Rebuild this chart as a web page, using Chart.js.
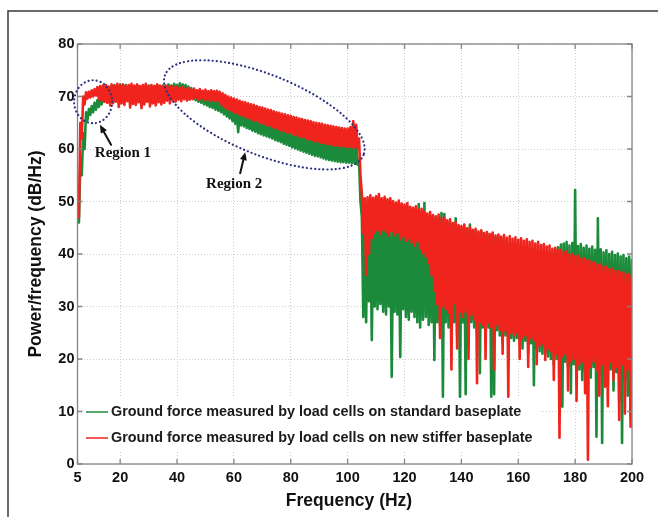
<!DOCTYPE html>
<html>
<head>
<meta charset="utf-8">
<script src="https://cdn.jsdelivr.net/npm/chart.js@4.4.1/dist/chart.umd.min.js"></script>
<style>
  html, body { margin: 0; padding: 0; background: #fff; }
  #wrap { width: 658px; height: 517px; }
</style>
</head>
<body>
<div id="wrap"><canvas id="psd-chart" width="658" height="517"></canvas></div>
<script>
// PSD of ground force, two baseplates. Values read per 1 Hz bin: peak (hi) and trough (lo).
const FREQ_FIRST = 5
const FREQ_LAST = 200
const X_TICKS = [5, 20, 40, 60, 80, 100, 120, 140, 160, 180, 200]
const Y_TICKS = [0, 10, 20, 30, 40, 50, 60, 70, 80]
const LABELS = [
  'Ground force measured by load cells on standard baseplate',
  'Ground force measured by load cells on new stiffer baseplate',
]
const REGION_LABELS = ['Region 1', 'Region 2']
const X_TITLE = 'Frequency (Hz)'

// standard baseplate (green)
const STD_HI = [
  49, 58, 63, 67, 67.6, 68.2, 68.8, 69.3, 69.8, 70.5,
  71.0, 71.8, 72.0, 72.2, 71.9, 72.3, 72.1, 72.2, 71.8, 72.0,
  71.9, 72.1, 71.7, 72.0, 71.8, 72.1, 71.9, 72.0, 72.2, 71.9,
  72.1, 72.0, 72.3, 72.1, 72.4, 72.2, 72.5, 72.3, 72.2, 71.9,
  71.6, 71.3, 71.0, 70.7, 70.4, 70.1, 69.8, 69.6, 69.4, 69.2,
  68.9, 68.6, 68.3, 68.0, 67.7, 67.4, 67.1, 66.8, 66.5, 66.2,
  65.9, 65.7, 65.4, 65.2, 65.0, 64.8, 64.6, 64.4, 64.2, 64.0,
  63.8, 63.6, 63.4, 63.2, 63.0, 62.8, 62.6, 62.5, 62.3, 62.1,
  62.0, 61.8, 61.7, 61.5, 61.4, 61.3, 61.2, 61.1, 61.0, 60.9,
  60.8, 60.7, 60.6, 60.6, 60.5, 60.5, 60.6, 61.5, 61.0, 58,
  47, 45, 45.5, 45.8, 45.2, 45.6, 46.0, 45.4, 45.8, 45.1,
  45.5, 44.8, 45.2, 44.6, 45.0, 46.5, 45.3, 44.8, 46.0, 47.2,
  49.5, 47.0, 49.7, 47.2, 47.4, 46.8, 46.8, 47.0, 47.8, 47.6,
  46.0, 46.2, 45.6, 46.8, 45.2, 45.0, 45.4, 44.6, 45.6, 44.3,
  44.4, 44.0, 44.2, 43.7, 43.9, 43.5, 43.8, 43.2, 43.4, 43.0,
  42.6, 42.4, 42.2, 42.0, 41.8, 41.6, 41.5, 41.3, 41.2, 41.0,
  40.9, 40.8, 40.6, 40.5, 40.4, 40.3, 40.2, 40.2, 40.8, 41.3,
  41.8, 42.0, 42.3, 41.6, 42.1, 52.2, 41.5, 41.9, 41.2, 41.6,
  41.0, 41.4, 40.8, 46.8, 40.9, 40.3, 40.7, 40.0, 40.4, 39.8,
  40.1, 39.5, 39.8, 39.2, 39.5, 39.0,
]
const STD_LO = [
  46, 55, 60, 65.5, 66.5, 67.0, 67.5, 68.0, 68.5, 69.0,
  69.5, 69.8, 70.2, 69.9, 70.3, 70.0, 70.4, 69.8, 70.2, 70.0,
  70.3, 69.9, 70.2, 70.0, 70.4, 69.9, 70.2, 70.1, 70.3, 70.0,
  70.2, 70.0, 70.3, 70.1, 70.4, 70.2, 70.3, 70.0, 69.8, 69.5,
  69.6, 69.3, 69.0, 68.8, 68.5, 68.3, 68.0, 67.8, 67.5, 67.3,
  67.0, 66.6, 66.2, 65.8, 65.3, 64.8, 63.2, 64.5, 64.3, 64.0,
  63.8, 63.5, 63.3, 63.0, 62.8, 62.6, 62.4, 62.2, 62.0, 61.7,
  61.5, 61.3, 61.0, 60.8, 60.6, 60.3, 60.1, 59.9, 59.7, 59.5,
  59.3, 59.1, 58.9, 58.7, 58.6, 58.4, 58.2, 58.0, 57.9, 57.8,
  57.7, 57.6, 57.5, 57.5, 57.4, 57.4, 57.3, 57.2, 57.0, 50,
  28, 27, 31, 23.6, 30, 29.5, 30.5, 29.0, 28.5, 30.0,
  16.6, 29.0, 28.5, 20.4, 29.5, 28.0, 27.5, 29.0, 28.0, 27.0,
  26.0, 27.5, 28.0, 26.5, 27.0, 19.8, 27.0, 26.5, 12.8, 27.0,
  26.0, 28.0, 27.0, 24.5, 12.8, 27.0, 13.3, 26.0, 27.0, 26.0,
  25.0, 17.3, 26.0, 25.0, 26.0, 12.8, 13.3, 25.5, 24.5, 23.0,
  24.5, 22.0, 24.0, 23.5, 24.0, 23.0, 22.0, 23.5, 21.0, 23.0,
  15.0, 22.0, 21.5, 21.0, 21.0, 20.5, 20.0, 19.0, 20.0, 18.5,
  10.9, 19.5, 18.5, 13.5, 19.0, 19.0, 18.0, 16.0, 17.5, 18.0,
  16.5, 18.5, 5.2, 17.0, 4.0, 17.5, 15.0, 18.0, 14.0, 17.5,
  12.0, 4.0, 16.0, 13.0, 9.0, 14.0,
]

// new stiffer baseplate (red)
const STIFF_HI = [
  49, 65, 70, 70.8, 70.9, 71.2, 71.4, 71.8, 72.0, 72.1,
  72.2, 71.9, 72.3, 72.0, 72.4, 72.1, 72.3, 72.0, 72.2, 72.4,
  72.1, 72.3, 72.0, 72.2, 72.4, 71.9, 72.2, 72.0, 72.3, 72.1,
  71.9, 72.1, 71.8, 72.0, 71.7, 71.9, 71.6, 71.8, 71.5, 71.6,
  71.3, 71.5, 71.2, 71.4, 71.1, 71.3, 71.0, 71.2, 71.0, 71.1,
  70.9, 70.6, 70.3, 70.0, 69.8, 69.6, 69.4, 69.2, 69.0, 68.9,
  68.7, 68.5, 68.4, 68.2, 68.0, 67.9, 67.7, 67.5, 67.4, 67.2,
  67.0, 66.9, 66.7, 66.6, 66.4, 66.3, 66.1, 66.0, 65.8, 65.7,
  65.5, 65.4, 65.3, 65.1, 65.0, 64.9, 64.8, 64.6, 64.5, 64.4,
  64.3, 64.2, 64.1, 64.0, 63.9, 63.9, 64.2, 65.3, 64.6, 62,
  51.5, 50.6, 50.8, 51.2, 50.7, 51.0, 51.4, 50.6, 50.9, 50.4,
  50.6, 50.1, 49.8, 50.2, 49.6, 49.4, 49.7, 49.0, 48.8, 49.1,
  48.4, 48.6, 48.0, 47.7, 48.0, 47.4, 47.2, 47.5, 46.8, 46.9,
  46.4, 46.6, 45.9, 46.1, 45.5, 45.3, 45.6, 44.9, 45.1, 44.6,
  44.8, 44.3, 44.5, 44.0, 44.2, 43.8, 44.1, 43.5, 43.7, 43.3,
  43.6, 43.1, 43.4, 42.9, 43.2, 42.7, 43.0, 42.5, 42.8, 42.3,
  42.5, 42.0, 42.3, 41.7, 41.9, 41.4, 41.6, 41.0, 41.2, 40.7,
  40.8, 40.3, 40.5, 39.9, 40.0, 39.5, 39.7, 39.1, 39.2, 38.7,
  38.8, 38.3, 38.4, 37.9, 38.0, 37.5, 37.6, 37.1, 37.2, 36.7,
  36.8, 36.4, 36.5, 36.0, 36.2, 35.8,
]
const STIFF_LO = [
  47, 62, 68.5, 69.6, 69.8, 70.0, 70.2, 69.5, 69.2, 69.0,
  68.8, 68.3, 68.7, 69.0, 68.0, 68.7, 68.4, 69.1, 67.9, 68.6,
  68.4, 68.9, 67.8, 68.5, 69.0, 68.1, 68.7, 68.3, 68.9, 68.5,
  68.8, 69.2, 68.7, 69.3, 69.0, 69.4, 69.1, 69.5, 69.2, 69.4,
  69.5, 69.7, 69.4, 69.6, 69.3, 69.5, 69.2, 69.4, 69.1, 69.2,
  68.5, 68.0, 67.7, 67.4, 67.2, 66.9, 66.7, 66.5, 66.2, 66.0,
  65.8, 65.6, 65.4, 65.2, 65.0, 64.8, 64.6, 64.4, 64.2, 64.0,
  63.8, 63.6, 63.4, 63.2, 63.1, 62.9, 62.7, 62.5, 62.3, 62.2,
  62.0, 61.8, 61.7, 61.5, 61.4, 61.2, 61.1, 61.0, 60.9, 60.8,
  60.7, 60.6, 60.6, 60.5, 60.4, 60.4, 60.3, 60.4, 60.1, 55,
  44, 36, 40, 43, 44, 44.5, 43.8, 44.6, 44.2, 43.5,
  44.3, 43.6, 44.0, 42.8, 43.4, 42.5, 43.0, 42.2, 41.6, 42.4,
  41.0, 40.2, 39.5, 38.3, 36.0, 33.0, 30.5, 24.0, 30.0, 29.5,
  28.8, 18.0, 30.6, 22.0, 29.0, 28.0, 29.0, 20.0, 28.5, 27.5,
  15.4, 27.0, 26.5, 20.0, 27.0, 26.0, 18.0, 26.5, 25.5, 21.0,
  25.5, 12.8, 25.0, 24.5, 25.0, 20.0, 24.0, 24.5, 18.5, 24.0,
  23.5, 19.0, 22.5, 23.0, 19.8, 22.0, 21.5, 16.0, 21.0, 5.0,
  20.5, 21.0, 14.0, 19.5, 20.0, 12.0, 19.0, 19.5, 13.5, 0.8,
  18.5, 19.5, 18.0, 13.0, 19.0, 14.7, 11.0, 19.5, 16.0, 18.5,
  8.4, 19.0, 9.6, 18.0, 7.1, 17.5,
]

const GREEN = '#1b8a3a'
const RED = '#f0231d'
const FRAME = '#858585'
const SANS = '"Liberation Sans", Arial, sans-serif'

const FREQ = Array.from({ length: FREQ_LAST - FREQ_FIRST + 1 }, (_, i) => FREQ_FIRST + i)

// peak then trough inside each bin, like the raw spectrum trace
function trace(hi, lo) {
  const pts = []
  FREQ.forEach((f, i) => {
    pts.push({ x: f, y: hi[i] })
    pts.push({ x: f + 0.5, y: lo[i] })
  })
  return pts
}

const overlay = {
  id: 'overlay',
  beforeDraw(chart) {
    const { ctx, width, height } = chart
    ctx.save()
    ctx.fillStyle = '#fff'
    ctx.fillRect(0, 0, width, height)
    // figure frame (left and top edges visible)
    ctx.strokeStyle = '#3a3a3a'
    ctx.lineWidth = 1.5
    ctx.beginPath()
    ctx.moveTo(8, height)
    ctx.lineTo(8, 11)
    ctx.lineTo(width, 11)
    ctx.stroke()
    ctx.restore()
  },
  afterDatasetsDraw(chart) {
    const { ctx, chartArea: a, scales: { x, y } } = chart
    ctx.save()

    // legend box inside the axes
    ctx.fillStyle = '#fff'
    ctx.fillRect(a.left + 1, 398, 462, 54)
    ctx.font = 'bold 14.4px ' + SANS
    ctx.textBaseline = 'middle'
    ctx.fillStyle = '#1a1a1a'
    ;[GREEN, RED].forEach((c, i) => {
      const yy = 412 + i * 26
      ctx.strokeStyle = c
      ctx.lineWidth = 1.5
      ctx.beginPath()
      ctx.moveTo(86, yy)
      ctx.lineTo(108, yy)
      ctx.stroke()
      ctx.fillText(LABELS[i], 111, yy)
    })

    // x axis title, a little left of the plot centre as in the figure
    ctx.font = 'bold 17.5px ' + SANS
    ctx.textAlign = 'center'
    ctx.fillStyle = '#111'
    ctx.fillText(X_TITLE, 349, 501)
    ctx.textAlign = 'left'

    // axes box + inward ticks on all sides
    ctx.strokeStyle = FRAME
    ctx.lineWidth = 1.3
    ctx.strokeRect(a.left, a.top, a.right - a.left, a.bottom - a.top)
    ctx.beginPath()
    X_TICKS.forEach(v => {
      const px = x.getPixelForValue(v)
      ctx.moveTo(px, a.bottom); ctx.lineTo(px, a.bottom - 5)
      ctx.moveTo(px, a.top); ctx.lineTo(px, a.top + 5)
    })
    Y_TICKS.forEach(v => {
      const py = y.getPixelForValue(v)
      ctx.moveTo(a.left, py); ctx.lineTo(a.left + 5, py)
      ctx.moveTo(a.right, py); ctx.lineTo(a.right - 5, py)
    })
    ctx.stroke()

    // region markers
    ctx.strokeStyle = '#2b3080'
    ctx.lineWidth = 2.2
    ctx.lineCap = 'round'
    ctx.setLineDash([0.1, 4])
    ctx.beginPath()
    ctx.ellipse(x.getPixelForValue(10.5), y.getPixelForValue(69), 19, 21.5, 0, 0, Math.PI * 2)
    ctx.stroke()
    ctx.beginPath()
    ctx.ellipse(x.getPixelForValue(70.7), y.getPixelForValue(66.5), 107, 40, 22 * Math.PI / 180, 0, Math.PI * 2)
    ctx.stroke()
    ctx.setLineDash([])

    const arrow = (f0, v0, f1, v1) => {
      const x0 = x.getPixelForValue(f0), y0 = y.getPixelForValue(v0)
      const x1 = x.getPixelForValue(f1), y1 = y.getPixelForValue(v1)
      const ang = Math.atan2(y1 - y0, x1 - x0)
      ctx.strokeStyle = '#111'
      ctx.fillStyle = '#111'
      ctx.lineWidth = 2
      ctx.beginPath()
      ctx.moveTo(x0, y0)
      ctx.lineTo(x1 - 5 * Math.cos(ang), y1 - 5 * Math.sin(ang))
      ctx.stroke()
      ctx.beginPath()
      ctx.moveTo(x1, y1)
      ctx.lineTo(x1 - 8 * Math.cos(ang) + 3.5 * Math.sin(ang), y1 - 8 * Math.sin(ang) - 3.5 * Math.cos(ang))
      ctx.lineTo(x1 - 8 * Math.cos(ang) - 3.5 * Math.sin(ang), y1 - 8 * Math.sin(ang) + 3.5 * Math.cos(ang))
      ctx.closePath()
      ctx.fill()
    }
    arrow(16.8, 60.8, 12.9, 64.6)
    arrow(62.2, 55.4, 64, 59.4)

    ctx.font = 'bold 15px "Liberation Serif", "Times New Roman", serif'
    ctx.fillStyle = '#111'
    ctx.textAlign = 'center'
    ctx.fillText(REGION_LABELS[0], x.getPixelForValue(21), y.getPixelForValue(59.2))
    ctx.fillText(REGION_LABELS[1], x.getPixelForValue(60.1), y.getPixelForValue(53.4))
    ctx.restore()
  },
}

const tickFont = { family: SANS, size: 14.5, weight: 'bold' }
const traceStyle = { borderWidth: 2.6, borderJoinStyle: 'round', pointRadius: 0, tension: 0 }

new Chart(document.getElementById('psd-chart'), {
  type: 'line',
  data: {
    datasets: [
      { label: LABELS[0], data: trace(STD_HI, STD_LO), borderColor: GREEN, order: 2, ...traceStyle },
      { label: LABELS[1], data: trace(STIFF_HI, STIFF_LO), borderColor: RED, order: 1, ...traceStyle },
    ],
  },
  options: {
    responsive: false,
    animation: false,
    layout: { padding: { left: 0, top: 44, right: 26, bottom: 0 } },
    plugins: { legend: { display: false }, tooltip: { enabled: false } },
    scales: {
      x: {
        type: 'linear',
        min: FREQ_FIRST,
        max: FREQ_LAST,
        afterBuildTicks: s => { s.ticks = X_TICKS.map(v => ({ value: v })) },
        afterFit: s => { s.height = 53 },
        grid: { color: '#cdcdcd', drawTicks: false },
        border: { display: false, dash: [1, 2] },
        ticks: { color: '#111', font: tickFont, padding: 5, maxRotation: 0, autoSkip: false },
        title: { display: false },
      },
      y: {
        min: 0,
        max: 80,
        afterBuildTicks: s => { s.ticks = Y_TICKS.map(v => ({ value: v })) },
        afterFit: s => { s.width = 77.5 },
        grid: { color: '#cdcdcd', drawTicks: false },
        border: { display: false, dash: [1, 2] },
        ticks: { color: '#111', font: tickFont, padding: 3 },
        title: {
          display: true, text: 'Power/frequency (dB/Hz)', color: '#111',
          font: { family: SANS, size: 17.5, weight: 'bold' },
          padding: { top: 25.5, bottom: 0 },
        },
      },
    },
  },
  plugins: [overlay],
})
</script>
</body>
</html>
